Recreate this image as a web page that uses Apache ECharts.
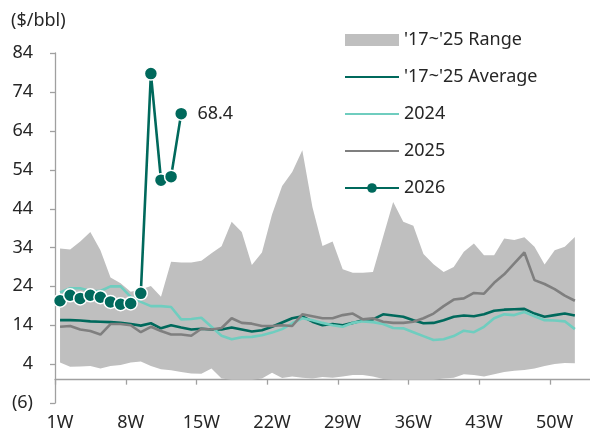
<!DOCTYPE html>
<html>
<head>
<meta charset="utf-8">
<script src="https://cdn.jsdelivr.net/npm/echarts@6/dist/echarts.min.js"></script>
<style>
  html, body { margin: 0; padding: 0; background: #fff; }
  #chart { width: 590px; height: 432px; }
</style>
</head>
<body>
<div id="chart"></div>
<script>
const weeks = Array.from({ length: 53 }, (_, i) => (i + 1) + 'W')
const labelWeeks = ['1W', '8W', '15W', '22W', '29W', '36W', '43W', '50W']

const rangeLow = [4.4, 3.3, 3.4, 3.5, 2.9, 3.5, 3.8, 4.4, 4.7, 3.5,
  2.7, 2.4, 2.0, 1.6, 1.5, 2.9, 0.3, 0, 0, 0,
  0.3, 1.8, 0.4, 0.8, 0.5, 0.3, 0.7, 0.5, 0.8, 1.2,
  1.2, 0.8, 0.2, 0, 0, 0, 0, 0, 0.3, 0.5,
  1.4, 1.2, 0.8, 1.4, 2.0, 2.3, 2.5, 2.9, 3.5, 4.0, 4.3, 4.2]
const rangeHigh = [33.7, 33.5, 35.5, 38.0, 33.3, 26.3, 24.8, 22.6, 23.2, 24.1,
  21.3, 30.3, 30.1, 30.1, 30.6, 32.5, 34.3, 40.6, 38.0, 29.5,
  32.7, 42.5, 49.8, 53.4, 59.0, 44.4, 34.4, 35.5, 28.4, 27.5,
  27.5, 27.7, 36.7, 45.7, 40.6, 39.6, 32.3, 29.7, 27.7, 29.0,
  32.9, 35.0, 32.0, 32.0, 36.3, 35.9, 36.6, 34.2, 29.6, 33.3, 34.2, 36.7]
const average = [15.3, 15.3, 15.2, 15.0, 14.9, 14.8, 14.6, 14.3, 13.9, 14.5,
  13.2, 14.0, 13.4, 12.9, 13.1, 12.9, 12.9, 13.4, 12.9, 12.4,
  12.7, 13.6, 14.7, 15.8, 16.3, 14.9, 14.0, 14.3, 14.0, 14.6,
  15.3, 15.5, 16.8, 16.5, 16.2, 15.3, 14.5, 14.6, 15.3, 16.2,
  16.5, 16.3, 16.8, 17.7, 18.0, 18.1, 18.2, 17.0, 16.2, 16.6, 17.0, 16.5]
const y2024 = [22.4, 23.5, 23.5, 22.8, 22.8, 24.0, 24.0, 21.3, 20.0, 18.9,
  18.9, 18.7, 15.5, 15.6, 15.9, 13.6, 11.3, 10.4, 10.9, 11.0,
  11.4, 12.1, 13.0, 14.5, 15.8, 15.3, 14.6, 14.0, 13.6, 14.6,
  15.0, 14.8, 14.3, 13.3, 13.2, 12.2, 11.2, 10.2, 10.4, 11.2,
  12.6, 12.2, 13.6, 15.8, 16.8, 16.6, 17.4, 16.3, 15.3, 15.2, 15.0, 13.0]
const y2025 = [13.6, 13.8, 12.9, 12.5, 11.6, 14.3, 14.3, 14.0, 12.2, 13.6,
  12.5, 11.6, 11.6, 11.3, 13.1, 12.9, 13.3, 15.8, 14.6, 14.4,
  13.8, 13.8, 14.0, 13.8, 16.8, 16.3, 15.8, 15.8, 16.6, 17.0,
  15.5, 15.8, 14.9, 14.6, 14.6, 14.9, 15.8, 17.0, 18.9, 20.6,
  20.9, 22.3, 22.1, 24.9, 27.1, 29.9, 32.7, 25.6, 24.6, 23.3, 21.6, 20.3]
const y2026 = [20.3, 21.7, 20.9, 21.7, 21.2, 20.0, 19.4, 19.6, 22.2, 78.7, 51.3, 52.2, 68.4]
const yTicks = [-6, 4, 14, 24, 34, 44, 54, 64, 74, 84]

const names = {
  range: "'17~'25 Range",
  avg: "'17~'25 Average",
  y24: '2024',
  y25: '2025',
  y26: '2026',
}

const FONT = 'Noto Sans'
const FS = 18
const TEAL = '#00695c'
const LIGHT = '#6fcdbf'
const GREY = '#7f7f7f'
const BAND = '#bfbfbf'
const AXIS = '#a0a0a0'
const TEXT = '#262626'
const TICK_LEN = 5

const Y_MIN = -6
const Y_MAX = 84
const GRID = { left: 55, right: -1, top: 53, bottom: 29 }
const PLOT_H = 432 - GRID.top - GRID.bottom
// the week axis line sits on y = 0, labels stay at the bottom of the plot
const zeroOffset = -((0 - Y_MIN) / (Y_MAX - Y_MIN)) * PLOT_H

const chart = echarts.init(document.getElementById('chart'))

const last = y2026.length - 1
const data2026 = y2026.map((v, i) => i === last
  ? { value: v, label: { show: true, position: 'right', distance: 9, formatter: '{c}' } }
  : v)

// line-only legend entries: hide the default circle
const lineOnly = (name) => ({ name, itemStyle: { opacity: 0, borderWidth: 0 } })

// axis ticks drawn through the scales (axisTick did not render here)
function weekTick(params, api) {
  const c = api.coord([api.value(0), 0])
  const half = api.size([1, 0])[0] / 2
  const x = Math.round(c[0] - half) + 0.5
  return {
    type: 'line',
    shape: { x1: x, y1: c[1], x2: x, y2: c[1] + TICK_LEN },
    style: { stroke: AXIS, lineWidth: 1.3 },
  }
}
function valueTick(params, api) {
  const c = api.coord([0, api.value(1)])
  const half = api.size([1, 0])[0] / 2
  const x = c[0] - half
  const y = Math.round(c[1]) + 0.5
  return {
    type: 'line',
    shape: { x1: x - TICK_LEN, y1: y, x2: x, y2: y },
    style: { stroke: AXIS, lineWidth: 1.3 },
  }
}

chart.setOption({
  animation: false,
  textStyle: { fontFamily: FONT, color: TEXT },
  title: {
    text: '($/bbl)',
    left: 6,
    top: 7,
    textStyle: { fontFamily: FONT, fontSize: FS, fontWeight: 'normal', color: TEXT },
  },
  legend: {
    orient: 'vertical',
    left: 344,
    top: 31,
    padding: 0,
    itemWidth: 54,
    itemHeight: 12,
    itemGap: 19,
    textStyle: { fontFamily: FONT, fontSize: FS, lineHeight: 18, color: TEXT },
    data: [
      { name: names.range, icon: 'rect' },
      lineOnly(names.avg), lineOnly(names.y24), lineOnly(names.y25),
      { name: names.y26, itemStyle: { borderWidth: 0 } },
    ],
  },
  grid: GRID,
  xAxis: [
    {
      type: 'category',
      data: weeks,
      position: 'bottom',
      boundaryGap: true,
      axisLine: { show: false, onZero: false },
      axisTick: { show: false },
      axisLabel: { interval: 6, margin: 13, fontSize: FS, lineHeight: 14, color: TEXT, fontFamily: FONT },
      splitLine: { show: false },
    },
    {
      // just the zero line
      type: 'value',
      min: 0,
      max: weeks.length,
      position: 'bottom',
      offset: zeroOffset,
      axisLine: { show: true, onZero: false, lineStyle: { color: AXIS, width: 1.3 } },
      axisTick: { show: false },
      axisLabel: { show: false },
      splitLine: { show: false },
    },
  ],
  yAxis: {
    type: 'value',
    min: Y_MIN,
    max: Y_MAX,
    axisLine: { show: true, onZero: false, lineStyle: { color: AXIS, width: 1.3 } },
    axisTick: { show: false },
    axisLabel: {
      customValues: yTicks,
      margin: 22,
      fontSize: FS,
      color: TEXT,
      fontFamily: FONT,
      formatter: (v) => (v < 0 ? '(' + Math.abs(v) + ')' : String(v)),
    },
    splitLine: { show: false },
  },
  series: [
    {
      name: 'rangeLow',
      type: 'line',
      stack: 'range',
      data: rangeLow,
      symbol: 'none',
      lineStyle: { opacity: 0 },
      silent: true,
    },
    {
      name: names.range,
      type: 'line',
      stack: 'range',
      data: rangeHigh.map((h, i) => +(h - rangeLow[i]).toFixed(2)),
      symbol: 'none',
      itemStyle: { color: BAND },
      lineStyle: { width: 0, color: BAND },
      areaStyle: { color: BAND, opacity: 1 },
    },
    {
      name: names.avg,
      type: 'line',
      data: average,
      symbol: 'none',
      itemStyle: { color: TEAL },
      lineStyle: { width: 2.6, color: TEAL },
    },
    {
      name: names.y24,
      type: 'line',
      data: y2024,
      symbol: 'none',
      itemStyle: { color: LIGHT },
      lineStyle: { width: 2.6, color: LIGHT },
    },
    {
      name: names.y25,
      type: 'line',
      data: y2025,
      symbol: 'none',
      itemStyle: { color: GREY },
      lineStyle: { width: 2.6, color: GREY },
    },
    {
      name: names.y26,
      type: 'line',
      data: data2026,
      symbol: 'circle',
      symbolSize: 13,
      showAllSymbol: true,
      z: 5,
      itemStyle: { color: TEAL, borderColor: '#fff', borderWidth: 1.5 },
      lineStyle: { width: 2.6, color: TEAL },
      label: { fontSize: FS, color: TEXT, fontFamily: FONT },
    },
    {
      name: 'weekTicks',
      type: 'custom',
      silent: true,
      clip: false,
      renderItem: weekTick,
      data: labelWeeks.map((w) => [weeks.indexOf(w), 0]),
    },
    {
      name: 'valueTicks',
      type: 'custom',
      silent: true,
      clip: false,
      renderItem: valueTick,
      data: yTicks.map((v) => [0, v]),
    },
  ],
})
</script>
</body>
</html>
